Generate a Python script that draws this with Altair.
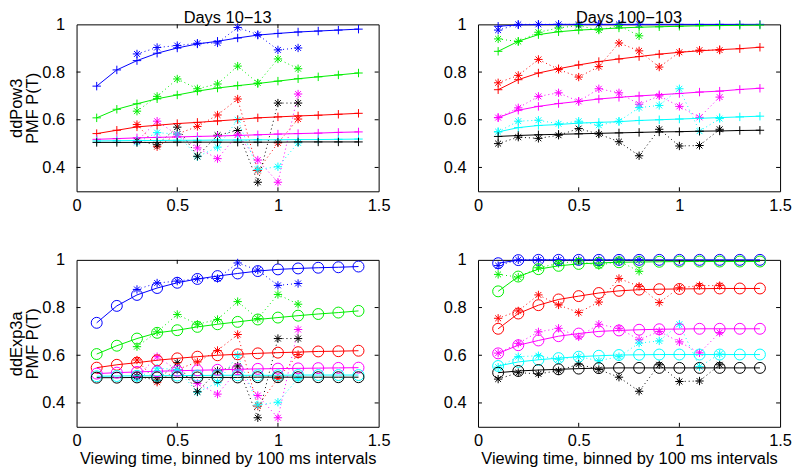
import altair as alt
import pandas as pd

FONT = "Liberation Sans"
FS = 16.5

SERIES = ["b", "g", "r", "m", "c", "k"]
COLORS = ["#0000ff", "#00ee00", "#ff0000", "#ff00ff", "#00ffff", "#000000"]

MODEL_X = [0.1, 0.2, 0.3, 0.4, 0.5, 0.6, 0.7, 0.8, 0.9, 1.0, 1.1, 1.2, 1.3, 1.4]

# ddPow3, Days 10-13
POW_EARLY = {
    "b": [0.741, 0.809, 0.848, 0.879, 0.901, 0.918, 0.929, 0.943, 0.955, 0.962, 0.968, 0.972, 0.976, 0.980],
    "g": [0.608, 0.644, 0.667, 0.688, 0.704, 0.720, 0.733, 0.743, 0.752, 0.762, 0.772, 0.780, 0.788, 0.796],
    "r": [0.542, 0.556, 0.570, 0.577, 0.584, 0.589, 0.595, 0.601, 0.608, 0.612, 0.616, 0.619, 0.623, 0.627],
    "m": [0.518, 0.521, 0.524, 0.526, 0.528, 0.530, 0.532, 0.534, 0.537, 0.540, 0.542, 0.544, 0.547, 0.549],
    "c": [0.511, 0.512, 0.513, 0.513, 0.514, 0.514, 0.515, 0.515, 0.516, 0.516, 0.517, 0.517, 0.518, 0.519],
    "k": [0.505, 0.505, 0.505, 0.505, 0.506, 0.506, 0.506, 0.506, 0.506, 0.506, 0.507, 0.507, 0.507, 0.507],
}
# ddExp3a, Days 10-13
EXP_EARLY = {
    "b": [0.736, 0.807, 0.853, 0.882, 0.904, 0.920, 0.932, 0.943, 0.953, 0.960, 0.964, 0.967, 0.969, 0.972],
    "g": [0.605, 0.640, 0.670, 0.694, 0.705, 0.719, 0.730, 0.740, 0.750, 0.758, 0.766, 0.773, 0.779, 0.786],
    "r": [0.548, 0.560, 0.569, 0.579, 0.587, 0.594, 0.600, 0.604, 0.608, 0.611, 0.613, 0.616, 0.617, 0.619],
    "m": [0.523, 0.527, 0.530, 0.533, 0.535, 0.537, 0.539, 0.541, 0.543, 0.544, 0.545, 0.546, 0.547, 0.548],
    "c": [0.512, 0.513, 0.514, 0.514, 0.515, 0.515, 0.516, 0.516, 0.516, 0.516, 0.517, 0.517, 0.517, 0.517],
    "k": [0.506, 0.506, 0.507, 0.507, 0.507, 0.507, 0.507, 0.507, 0.508, 0.508, 0.508, 0.508, 0.508, 0.508],
}
# ddPow3, Days 100-103
POW_LATE = {
    "b": [0.992, 0.998, 0.999, 1.0, 1.0, 1.0, 1.0, 1.0, 1.0, 1.0, 1.0, 1.0, 1.0, 1.0],
    "g": [0.887, 0.929, 0.957, 0.969, 0.976, 0.980, 0.985, 0.988, 0.990, 0.992, 0.994, 0.995, 0.996, 0.997],
    "r": [0.726, 0.768, 0.796, 0.814, 0.830, 0.844, 0.855, 0.865, 0.875, 0.883, 0.889, 0.894, 0.898, 0.904],
    "m": [0.609, 0.640, 0.656, 0.668, 0.677, 0.687, 0.694, 0.700, 0.705, 0.710, 0.716, 0.720, 0.727, 0.732],
    "c": [0.549, 0.567, 0.576, 0.580, 0.586, 0.589, 0.592, 0.597, 0.600, 0.603, 0.606, 0.609, 0.612, 0.615],
    "k": [0.530, 0.534, 0.537, 0.539, 0.541, 0.543, 0.545, 0.547, 0.549, 0.550, 0.552, 0.553, 0.555, 0.556],
}
# ddExp3a, Days 100-103
EXP_LATE = {
    "b": [0.986, 0.999, 1.0, 1.0, 1.0, 1.0, 1.0, 1.0, 1.0, 1.0, 1.0, 1.0, 1.0, 1.0],
    "g": [0.868, 0.930, 0.961, 0.975, 0.983, 0.987, 0.990, 0.991, 0.992, 0.993, 0.993, 0.993, 0.993, 0.993],
    "r": [0.711, 0.775, 0.810, 0.834, 0.848, 0.861, 0.870, 0.875, 0.877, 0.878, 0.879, 0.880, 0.880, 0.880],
    "m": [0.608, 0.642, 0.662, 0.680, 0.691, 0.700, 0.704, 0.707, 0.709, 0.710, 0.711, 0.711, 0.711, 0.711],
    "c": [0.555, 0.572, 0.581, 0.588, 0.594, 0.598, 0.601, 0.602, 0.603, 0.603, 0.603, 0.603, 0.603, 0.603],
    "k": [0.527, 0.534, 0.538, 0.541, 0.544, 0.546, 0.547, 0.547, 0.547, 0.547, 0.547, 0.547, 0.547, 0.547],
}

# observed data (asterisks, dotted)
DATA_X_EARLY = [0.3, 0.4, 0.5, 0.6, 0.7, 0.8, 0.9, 1.0, 1.1]
DATA_EARLY = {
    "b": [0.876, 0.903, 0.911, 0.921, 0.922, 0.987, 0.957, 0.893, 0.901],
    "g": [0.636, 0.698, 0.771, 0.730, 0.750, 0.825, 0.754, 0.855, 0.814],
    "r": [0.580, 0.487, 0.540, 0.572, 0.620, 0.687, 0.387, 0.503, 0.603],
    "m": [0.510, 0.594, 0.537, 0.482, 0.437, 0.537, 0.431, 0.338, 0.708],
    "c": [0.505, 0.546, 0.540, 0.445, 0.485, 0.600, 0.392, 0.403, 0.503],
    "k": [0.512, 0.495, 0.569, 0.447, 0.535, 0.555, 0.338, 0.670, 0.670],
}
DATA_X_LATE = [0.1, 0.2, 0.3, 0.4, 0.5, 0.6, 0.7, 0.8, 0.9, 1.0, 1.1, 1.2]
DATA_LATE = {
    "b": [0.976, 1.0, 1.0, 1.0, 1.0, 1.0, 1.0, 1.0],
    "g": [0.939, 0.928, 0.967, 0.985, 0.995, 0.976, 0.995, 0.952],
    "r": [0.755, 0.786, 0.853, 0.811, 0.779, 0.823, 0.922, 0.889, 0.821, 0.883, 0.892, 0.892],
    "m": [0.609, 0.650, 0.698, 0.713, 0.677, 0.730, 0.713, 0.665, 0.700, 0.656, 0.610, 0.695],
    "c": [0.550, 0.594, 0.598, 0.583, 0.594, 0.577, 0.594, 0.651, 0.660, 0.730, 0.552, 0.605],
    "k": [0.500, 0.527, 0.522, 0.535, 0.563, 0.540, 0.508, 0.449, 0.560, 0.490, 0.492, 0.560],
}

X_TICKS = [0, 0.5, 1, 1.5]
Y_TICKS = [0.4, 0.6, 0.8, 1]
X_INNER = [0.5, 1.0]
Y_INNER = [0.4, 0.6, 0.8]
X_DOMAIN = [0, 1.5]
Y_DOMAIN = [0.3, 1.0]

W, H = 304, 168
TICK = 4

PLUS = "M-1,0L1,0M0,-1L0,1"
STAR = "M-1,0L1,0M0,-1L0,1M-0.7,-0.7L0.7,0.7M-0.7,0.7L0.7,-0.7"

cscale = alt.Scale(domain=SERIES, range=COLORS)


def to_df(xs, d):
    rows = []
    for s in SERIES:
        for x, y in zip(xs, d[s]):
            rows.append({"x": x, "y": y, "s": s})
    return pd.DataFrame(rows)


def panel(model, data_x, data, shape, msize, title=None, ytitle=None, xtitle=None):
    xaxis = alt.Axis(values=X_TICKS, labelExpr="datum.value", ticks=False, domain=False,
                     grid=False, labelPadding=6, labelFlush=False,
                     title=xtitle if xtitle else None, titlePadding=1)
    yaxis = alt.Axis(values=Y_TICKS, labelExpr="datum.value", ticks=False, domain=False,
                     grid=False, labelPadding=12, labelFlush=False,
                     title=ytitle if ytitle else None, titlePadding=1, titleLineHeight=16)
    X = alt.X("x:Q", scale=alt.Scale(domain=X_DOMAIN, nice=False, zero=False), axis=xaxis)
    Y = alt.Y("y:Q", scale=alt.Scale(domain=Y_DOMAIN, nice=False, zero=False), axis=yaxis)
    C = alt.Color("s:N", scale=cscale, legend=None)

    mdf = to_df(MODEL_X, model)
    ddf = to_df(data_x, data)

    dline = alt.Chart(ddf).mark_line(strokeWidth=1, strokeDash=[1, 3]).encode(x=X, y=Y, color=C)
    dpts = alt.Chart(ddf).mark_point(shape=STAR, size=70, strokeWidth=1, filled=False, opacity=1).encode(
        x=X, y=Y, stroke=alt.Stroke("s:N", scale=cscale, legend=None))
    mline = alt.Chart(mdf).mark_line(strokeWidth=1).encode(x=X, y=Y, color=C)
    mpts = alt.Chart(mdf).mark_point(shape=shape, size=msize, strokeWidth=1, filled=False, opacity=1).encode(
        x=X, y=Y, stroke=alt.Stroke("s:N", scale=cscale, legend=None))

    ydf = pd.DataFrame({"y": Y_INNER})
    xdf = pd.DataFrame({"x": X_INNER})
    tl = alt.Chart(ydf).mark_rule(color="black", strokeWidth=1).encode(
        y=alt.Y("y:Q"), x=alt.value(0), x2=alt.value(TICK))
    tr = alt.Chart(ydf).mark_rule(color="black", strokeWidth=1).encode(
        y=alt.Y("y:Q"), x=alt.value(W - TICK), x2=alt.value(W))
    tt = alt.Chart(xdf).mark_rule(color="black", strokeWidth=1).encode(
        x=alt.X("x:Q"), y=alt.value(0), y2=alt.value(TICK))
    tb = alt.Chart(xdf).mark_rule(color="black", strokeWidth=1).encode(
        x=alt.X("x:Q"), y=alt.value(H - TICK), y2=alt.value(H))

    ch = alt.layer(dline, dpts, mline, mpts, tl, tr, tt, tb).properties(width=W, height=H)
    if title:
        ch = ch.properties(title=alt.TitleParams(title, fontSize=FS, fontWeight="normal", font=FONT,
                                                 color="black", anchor="middle", offset=-10))
    return ch


XT = "Viewing time, binned by 100 ms intervals"

p_tl = panel(POW_EARLY, DATA_X_EARLY, DATA_EARLY, PLUS, 72, title="Days 10\u221213", ytitle=["ddPow3", "PMF P(T)"])
p_tr = panel(POW_LATE, DATA_X_LATE, DATA_LATE, PLUS, 72, title="Days 100\u2212103")
p_bl = panel(EXP_EARLY, DATA_X_EARLY, DATA_EARLY, "circle", 121, ytitle=["ddExp3a", "PMF P(T)"], xtitle=XT)
p_br = panel(EXP_LATE, DATA_X_LATE, DATA_LATE, "circle", 121, xtitle=XT)

chart = alt.vconcat(
    alt.hconcat(p_tl, p_tr, spacing=52),
    alt.hconcat(p_bl, p_br, spacing=52),
    spacing=37,
).properties(
    padding={"left": 0, "top": 0, "right": 0, "bottom": 0},
    background="white",
).configure_view(
    stroke="black", strokeWidth=1
).configure_axis(
    labelFont=FONT, labelFontSize=FS, labelColor="black",
    titleFont=FONT, titleFontSize=FS, titleFontWeight="normal", titleColor="black",
)

chart.save("out.html", embed_options={"renderer": "svg", "actions": False})
